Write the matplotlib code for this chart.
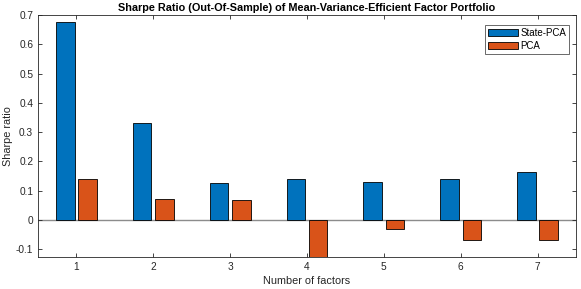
import numpy as np
import matplotlib.pyplot as plt

plt.rcParams['font.family'] = ['Liberation Sans', 'DejaVu Sans']

# Data
n_factors = [1, 2, 3, 4, 5, 6, 7]
state_pca = [0.677, 0.331, 0.127, 0.138, 0.130, 0.140, 0.163]
pca = [0.141, 0.071, 0.068, -0.126, -0.030, -0.068, -0.068]
series_names = ['State-PCA', 'PCA']

blue = '#0072BD'
orange = '#D95319'
axis_col = '#262626'

fig = plt.figure(figsize=(5.81, 2.89), dpi=100)
ax = fig.add_axes([0.0654, 0.110, 0.926, 0.838])

x = np.array(n_factors)
w = 0.24
off = 0.145
ax.bar(x - off, state_pca, w, color=blue, edgecolor='black', linewidth=0.6,
       label=series_names[0], zorder=2)
ax.bar(x + off, pca, w, color=orange, edgecolor='black', linewidth=0.6,
       label=series_names[1], zorder=2)
ax.axhline(0, color='#8c8c8c', linewidth=1.0, zorder=1)

ax.set_xlim(0.5, 7.5)
ax.set_ylim(-0.128, 0.7)
ax.set_xticks(n_factors)
ax.set_yticks([-0.1, 0, 0.1, 0.2, 0.3, 0.4, 0.5, 0.6, 0.7])
ax.set_yticklabels(['-0.1', '0', '0.1', '0.2', '0.3', '0.4', '0.5', '0.6', '0.7'])
ax.tick_params(direction='in', length=3, width=0.6, colors=axis_col,
               labelsize=7.3, top=True, right=True, labelcolor=axis_col)
for s in ax.spines.values():
    s.set_color(axis_col)
    s.set_linewidth(0.6)

ax.set_xlabel('Number of factors', fontsize=7.8, color=axis_col, labelpad=3)
ax.set_ylabel('Sharpe ratio', fontsize=7.8, color=axis_col, labelpad=2)
ax.set_title('Sharpe Ratio (Out-Of-Sample) of Mean-Variance-Efficient Factor Portfolio',
             fontsize=7.8, fontweight='bold', pad=3)

leg = ax.legend(loc='upper right', bbox_to_anchor=(0.987, 0.959),
                borderaxespad=0, fontsize=7, frameon=True, fancybox=False,
                edgecolor=axis_col, handlelength=3.1, handleheight=0.75,
                handletextpad=0.2, borderpad=0.3, labelspacing=0.3)
leg.get_frame().set_linewidth(0.6)

fig.savefig('out.png', dpi=100)
